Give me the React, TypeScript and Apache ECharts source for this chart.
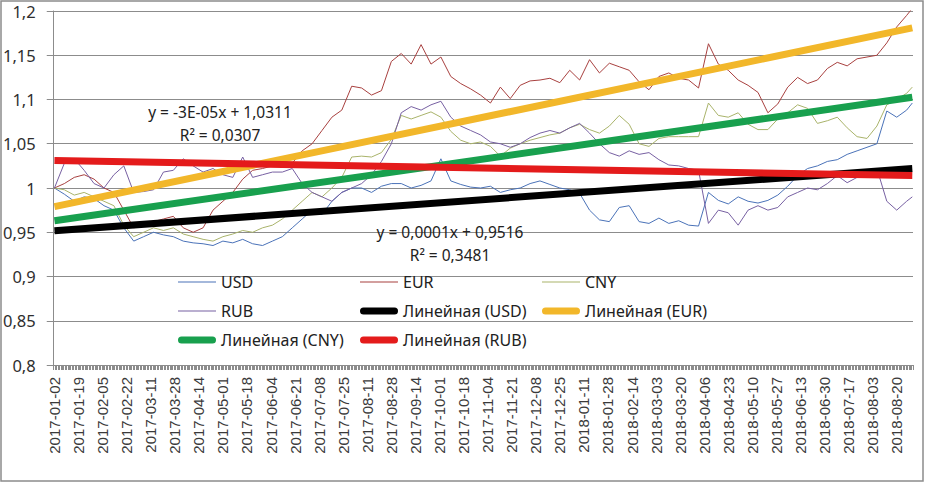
import React, { useEffect, useRef } from "react";
import * as echarts from "echarts";

// ---- data -------------------------------------------------------------
// Daily category axis: 2017-01-02 .. 2018-08-31
const firstDay = "2017-01-02";
const dayCount = 607;
const sampleStepDays = 7;

const usdValues = [
  1.0, 0.993, 0.985, 0.99, 0.988, 0.98, 0.975, 0.955, 0.94, 0.945,
  0.95, 0.947, 0.945, 0.94, 0.938, 0.937, 0.935, 0.94, 0.938, 0.942,
  0.937, 0.935, 0.94, 0.945, 0.955, 0.965, 0.975, 0.97, 0.985, 0.995,
  1.0, 1.0, 0.995, 1.002, 1.005, 1.005, 1.0, 1.003, 1.008, 1.033,
  1.008, 1.004, 1.001, 1.0, 1.002, 0.995, 0.998, 1.0, 1.005, 1.008,
  1.004, 1.0, 0.998, 0.994, 0.975, 0.964, 0.962, 0.978, 0.98, 0.962,
  0.96, 0.966, 0.96, 0.963, 0.958, 0.957, 0.995, 0.986, 0.982, 0.99,
  0.985, 0.983, 0.986, 0.992, 1.002, 1.014, 1.022, 1.025, 1.03, 1.032,
  1.038, 1.042, 1.046, 1.05, 1.087, 1.08, 1.088, 1.096,
];

const eurValues = [
  1.0, 1.005, 1.012, 1.015, 1.01, 1.0, 0.995, 0.975, 0.955, 0.958,
  0.962, 0.965, 0.968, 0.955, 0.95, 0.955, 0.975, 0.985, 0.995, 1.01,
  1.02, 1.022, 1.025, 1.03, 1.028, 1.042, 1.05, 1.065, 1.08, 1.088,
  1.115, 1.113, 1.105, 1.11, 1.143, 1.152, 1.14, 1.162, 1.14, 1.148,
  1.126, 1.118, 1.112, 1.105, 1.096, 1.114, 1.101, 1.116, 1.121, 1.122,
  1.124, 1.119, 1.133, 1.122, 1.145, 1.13, 1.141, 1.137, 1.133, 1.12,
  1.111, 1.126, 1.13, 1.124, 1.122, 1.113, 1.163, 1.14, 1.133, 1.122,
  1.116, 1.108, 1.085, 1.095, 1.114, 1.125, 1.118, 1.122, 1.135, 1.142,
  1.138, 1.146, 1.148, 1.15, 1.164, 1.182, 1.195, 1.203,
];

const cnyValues = [
  1.0, 0.998, 0.992, 0.995, 0.99, 0.985, 0.98, 0.958, 0.945, 0.95,
  0.955, 0.952, 0.955, 0.948, 0.945, 0.942, 0.94, 0.945, 0.948, 0.952,
  0.95, 0.955, 0.958, 0.965, 0.975, 0.985, 0.995, 0.99, 1.0, 1.012,
  1.035, 1.036, 1.035, 1.04, 1.055, 1.082, 1.078, 1.082, 1.086, 1.08,
  1.064, 1.054, 1.05, 1.052, 1.047, 1.036, 1.045, 1.05, 1.054, 1.057,
  1.06, 1.062, 1.068, 1.072, 1.066, 1.062, 1.07, 1.082, 1.072, 1.05,
  1.047, 1.056, 1.058, 1.058, 1.058, 1.058, 1.096, 1.082, 1.08, 1.085,
  1.072, 1.066, 1.066, 1.078, 1.085, 1.094, 1.09, 1.073, 1.076, 1.08,
  1.068, 1.058, 1.056, 1.07, 1.094, 1.1, 1.107, 1.114,
];

const rubValues = [
  1.0, 1.028, 1.033, 1.02, 1.005, 1.0, 1.015, 1.025, 0.995, 0.996,
  0.998, 1.018, 1.02, 1.033, 1.025, 1.018, 1.022, 1.015, 1.012, 1.035,
  1.012, 1.015, 1.018, 1.018, 1.022, 1.005, 0.995, 0.99, 0.985, 0.995,
  1.0, 1.005, 1.015, 1.03, 1.05, 1.085, 1.092, 1.088, 1.094, 1.098,
  1.08, 1.07, 1.065, 1.06, 1.052, 1.05, 1.046, 1.05, 1.057, 1.062,
  1.065, 1.062, 1.068, 1.073, 1.062, 1.05, 1.04, 1.036, 1.042, 1.038,
  1.04, 1.032, 1.026, 1.025, 1.022, 1.02, 0.96, 0.975, 0.972, 0.958,
  0.975, 0.98, 0.975, 0.978, 0.99, 0.995, 1.0, 0.998, 1.005, 1.014,
  1.006, 1.012, 1.02, 1.022, 0.985, 0.975, 0.985, 0.99,
];

// linear trend lines (value at first and last day)
const trendUsd = [0.9517, 1.022];
const trendEur = [0.979, 1.181];
const trendCny = [0.963, 1.1025];
const trendRub = [1.031, 1.014];

const yTicks = { min: 0.8, max: 1.2, step: 0.05 };

const eqRub = ["y = -3E-05x + 1,0311", "R² = 0,0307"];
const eqUsd = ["y = 0,0001x + 0,9516", "R² = 0,3481"];

// ---- derived -----------------------------------------------------------
const categories: string[] = (() => {
  const out: string[] = [];
  const t0 = Date.parse(firstDay + "T00:00:00Z");
  for (let i = 0; i < dayCount; i++) {
    out.push(new Date(t0 + i * 86400000).toISOString().slice(0, 10));
  }
  return out;
})();

const sampleDates: string[] = (() => {
  const out: string[] = [];
  for (let i = 0; i < dayCount; i += sampleStepDays) out.push(categories[i]);
  out.push(categories[dayCount - 1]);
  return out;
})();

const FONT = "'Noto Sans', sans-serif";
const GRID_COLOR = "#8c8c8c";

const thinSeries = (name: string, color: string, values: number[], z: number) => ({
  name,
  type: "line",
  data: sampleDates.map((d, i) => [d, values[i]]),
  symbol: "none",
  showSymbol: false,
  clip: true,
  silent: true,
  z,
  lineStyle: { width: 1, color },
  itemStyle: { color },
});

const trendSeries = (name: string, color: string, ends: number[], z: number) => ({
  name,
  type: "line",
  data: [
    [categories[0], ends[0]],
    [categories[dayCount - 1], ends[1]],
  ],
  symbol: "none",
  showSymbol: false,
  silent: true,
  z,
  lineStyle: { width: 7, color, cap: "butt" },
  itemStyle: { color },
});

const capsule = "path://M3.5,0 L34.5,0 A3.5,3.5 0 0 1 34.5,7 L3.5,7 A3.5,3.5 0 0 1 3.5,0 Z";

const legendItems: [string, number, number, boolean][] = [
  ["USD", 178, 282, false],
  ["EUR", 360, 282, false],
  ["CNY", 542, 282, false],
  ["RUB", 178, 311, false],
  ["Линейная (USD)", 360, 311, true],
  ["Линейная (EUR)", 542, 311, true],
  ["Линейная (CNY)", 178, 340, true],
  ["Линейная (RUB)", 360, 340, true],
];

const textEl = (text: string, x: number, y: number) => ({
  type: "text",
  x,
  y,
  silent: true,
  z: 50,
  style: {
    text,
    fill: "#222",
    fontSize: 15.5,
    fontFamily: FONT,
    align: "center",
    verticalAlign: "middle",
    textAlign: "center",
    textVerticalAlign: "middle",
  },
});

const option: any = {
  animation: false,
  backgroundColor: "#ffffff",
  grid: { left: 53, right: 12, top: 11, bottom: 118, containLabel: false },
  xAxis: {
    type: "category",
    data: categories,
    boundaryGap: true,
    axisLine: { show: true, lineStyle: { color: GRID_COLOR, width: 1 } },
    axisTick: { show: true, interval: 0, length: 5, lineStyle: { color: GRID_COLOR, width: 1 } },
    axisLabel: {
      interval: 16,
      rotate: 90,
      margin: 12,
      fontFamily: "'Liberation Sans', Arial, sans-serif",
      fontSize: 15,
      color: "#3a3a3a",
    },
    splitLine: { show: false },
  },
  yAxis: {
    type: "value",
    min: yTicks.min,
    max: yTicks.max,
    interval: yTicks.step,
    axisLine: { show: true, lineStyle: { color: GRID_COLOR, width: 1 } },
    axisTick: { show: true, length: 7, lineStyle: { color: GRID_COLOR } },
    splitLine: { show: true, lineStyle: { color: GRID_COLOR, width: 1 } },
    axisLabel: {
      margin: 18,
      fontFamily: FONT,
      fontSize: 16.5,
      color: "#2e2e2e",
      formatter: (v: number) => String(Math.round(v * 100) / 100).replace(".", ","),
    },
  },
  legend: legendItems.map(([name, left, cy, thick]) => ({
    data: [name],
    left,
    top: cy - 9,
    padding: 0,
    itemWidth: 38,
    itemHeight: thick ? 7 : 1,
    icon: thick ? capsule : "rect",
    selectedMode: false,
    itemStyle: { borderWidth: 0 },
    textStyle: { fontFamily: FONT, fontSize: 16, color: "#222", lineHeight: 18 },
  })),
  series: [
    thinSeries("USD", "#4a72b8", usdValues, 2),
    thinSeries("EUR", "#a8403f", eurValues, 2),
    thinSeries("CNY", "#a9b36a", cnyValues, 2),
    thinSeries("RUB", "#7760a2", rubValues, 2),
    trendSeries("Линейная (USD)", "#000000", trendUsd, 3),
    trendSeries("Линейная (EUR)", "#f2b72a", trendEur, 4),
    trendSeries("Линейная (CNY)", "#18a04e", trendCny, 5),
    trendSeries("Линейная (RUB)", "#e41b1b", trendRub, 6),
  ],
  graphic: [
    {
      type: "rect",
      silent: true,
      z: 100,
      shape: { x: 1, y: 1, width: 922, height: 480 },
      style: { fill: "none", stroke: GRID_COLOR, lineWidth: 1.5 },
    },
    textEl(eqRub[0], 220, 112),
    textEl(eqRub[1], 220, 135),
    textEl(eqUsd[0], 450, 232),
    textEl(eqUsd[1], 450, 255),
  ],
};

export default function App() {
  const ref = useRef<HTMLDivElement>(null);
  useEffect(() => {
    if (!ref.current) return;
    const chart = echarts.init(ref.current, null, { renderer: "svg" });
    chart.setOption(option);
    return () => chart.dispose();
  }, []);
  return (
    <div
      ref={ref}
      style={{ position: "absolute", left: 0, top: 0, width: 925, height: 483, background: "#fff" }}
    />
  );
}
